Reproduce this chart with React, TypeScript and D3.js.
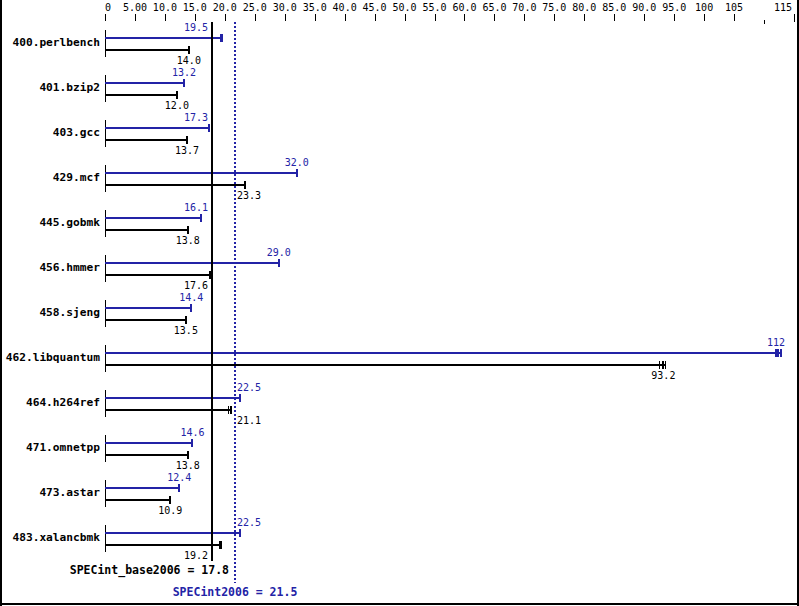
import React, { useEffect } from "react";
import * as d3 from "d3";

const benchmarks = [
  "400.perlbench", "401.bzip2", "403.gcc", "429.mcf", "445.gobmk", "456.hmmer",
  "458.sjeng", "462.libquantum", "464.h264ref", "471.omnetpp", "473.astar", "483.xalancbmk",
];
const peakValues = [19.5, 13.2, 17.3, 32.0, 16.1, 29.0, 14.4, 112, 22.5, 14.6, 12.4, 22.5];
const baseValues = [14.0, 12.0, 13.7, 23.3, 13.8, 17.6, 13.5, 93.2, 21.1, 13.8, 10.9, 19.2];
// extra run ticks visible at bar ends
const peakExtraRuns: number[][] = [[19.4], [], [], [], [], [], [], [112.4, 112.8], [], [], [], []];
const baseExtraRuns: number[][] = [[], [], [], [], [], [], [], [92.5, 93.5], [20.6], [], [], [19.3]];
const majorTicks = [0, 5, 10, 15, 20, 25, 30, 35, 40, 45, 50, 55, 60, 65, 70, 75, 80, 85, 90, 95, 100, 105];
const minorTicks = [110];
const endTick = 115;
const baseMean = 17.8;
const peakMean = 21.5;
const baseMeanLabel = "SPECint_base2006 = 17.8";
const peakMeanLabel = "SPECint2006 = 21.5";

const BLUE = "#2323a6";
const FONT = "'DejaVu Sans Mono', monospace";

export default function App() {
  useEffect(() => {
    document.body.style.margin = "0";
  }, []);

  const W = 799, H = 606;
  const x = d3.scaleLinear().domain([0, endTick]).range([105, 794]);
  const y = d3.scalePoint<string>().domain(benchmarks).range([38, 533]);
  const fmt = (v: number) => (v === 0 ? "0" : d3.format(".3r")(v));
  const px = (v: number) => Math.round(x(v));

  const lines = [px(baseMean), px(peakMean)];
  const charW = 6.02;
  const placeLabel = (v: number, txt: string) => {
    const w = txt.length * charW;
    const c = x(v);
    const overlaps = (cc: number) =>
      lines.some((L) => cc + w / 2 > L - 3 && cc - w / 2 < L + 2);
    if (!overlaps(c)) return c;
    const cands: number[] = [];
    lines.forEach((L) => {
      cands.push(L - 4 - w / 2);
      cands.push(L + 3 + w / 2);
    });
    const valid = cands.filter((cc) => !overlaps(cc));
    valid.sort((a, b) => Math.abs(a - c) - Math.abs(b - c));
    return valid.length ? valid[0] : c;
  };

  const gap = 12;

  return (
    <svg width={W} height={H} style={{ display: "block", background: "#fff" }} fontFamily={FONT}>
      <g shapeRendering="crispEdges">
        {/* border */}
        <line x1={1} y1={0} x2={1} y2={606} stroke="#000" strokeWidth={2} />
        <line x1={798} y1={0} x2={798} y2={606} stroke="#000" strokeWidth={2} />
        <line x1={0} y1={604} x2={799} y2={604} stroke="#000" strokeWidth={2} />

        {/* top axis ticks */}
        {majorTicks.map((t) => (
          <line key={"t" + t} x1={px(t) + 0.5} x2={px(t) + 0.5} y1={14} y2={21} stroke="#000" strokeWidth={1} />
        ))}
        {minorTicks.map((t) => (
          <line key={"m" + t} x1={px(t) + 0.5} x2={px(t) + 0.5} y1={20} y2={24} stroke="#000" strokeWidth={1} />
        ))}
        <line x1={px(endTick) + 0.5} x2={px(endTick) + 0.5} y1={14} y2={22} stroke="#000" strokeWidth={1} />

        {/* groups */}
        {benchmarks.map((b, i) => {
          const yb = Math.round(y(b) as number);
          const yk = yb + gap;
          const pv = peakValues[i];
          const bv = baseValues[i];
          const pEnd = Math.max(pv, ...peakExtraRuns[i]);
          const bEnd = Math.max(bv, ...baseExtraRuns[i]);
          return (
            <g key={b}>
              <line x1={px(0) + 0.5} x2={px(0) + 0.5} y1={yb - 8} y2={yk + 7} stroke="#000" strokeWidth={1} />
              <line x1={px(0)} x2={px(pEnd)} y1={yb} y2={yb} stroke={BLUE} strokeWidth={2} />
              {[pv, ...peakExtraRuns[i]].map((r, j) => (
                <line key={"pr" + j} x1={px(r)} x2={px(r)} y1={yb - 4} y2={yb + 4} stroke={BLUE} strokeWidth={2} />
              ))}
              <line x1={px(0)} x2={px(bEnd)} y1={yk} y2={yk} stroke="#000" strokeWidth={2} />
              {[bv, ...baseExtraRuns[i]].map((r, j) => (
                <line key={"br" + j} x1={px(r)} x2={px(r)} y1={yk - 4} y2={yk + 4} stroke="#000" strokeWidth={j === 0 ? 2 : 1} />
              ))}
            </g>
          );
        })}

        {/* mean lines */}
        <line x1={px(baseMean)} x2={px(baseMean)} y1={22} y2={561} stroke="#000" strokeWidth={2} />
        <line x1={px(peakMean) + 1} x2={px(peakMean) + 1} y1={22} y2={583} stroke={BLUE} strokeWidth={2} strokeDasharray="2,2" />
      </g>

      {/* tick labels */}
      {majorTicks.map((t) => (
        <text key={"tl" + t} x={x(t)} y={11} fontSize={10} textAnchor={t === 0 ? "start" : "middle"} fill="#000">
          {fmt(t)}
        </text>
      ))}
      <text x={x(endTick) - 2} y={11} fontSize={10} textAnchor="end" fill="#000">
        {fmt(endTick)}
      </text>

      {/* labels */}
      {benchmarks.map((b, i) => {
        const yb = Math.round(y(b) as number);
        const yk = yb + gap;
        const pTxt = fmt(peakValues[i]);
        const bTxt = fmt(baseValues[i]);
        return (
          <g key={"l" + b}>
            <text x={100} y={yb + 8} fontSize={11.2} fontWeight="bold" textAnchor="end" fill="#000">
              {b}
            </text>
            <text x={placeLabel(peakValues[i], pTxt)} y={yb - 7} fontSize={10} textAnchor="middle" fill={BLUE}>
              {pTxt}
            </text>
            <text x={placeLabel(baseValues[i], bTxt)} y={yk + 14} fontSize={10} textAnchor="middle" fill="#000">
              {bTxt}
            </text>
          </g>
        );
      })}

      <text x={px(peakMean) - 5} y={574} fontSize={11.5} fontWeight="bold" textAnchor="end" fill="#000">
        {baseMeanLabel}
      </text>
      <text x={px(peakMean) + 1} y={596} fontSize={11.5} fontWeight="bold" textAnchor="middle" fill={BLUE}>
        {peakMeanLabel}
      </text>
    </svg>
  );
}
